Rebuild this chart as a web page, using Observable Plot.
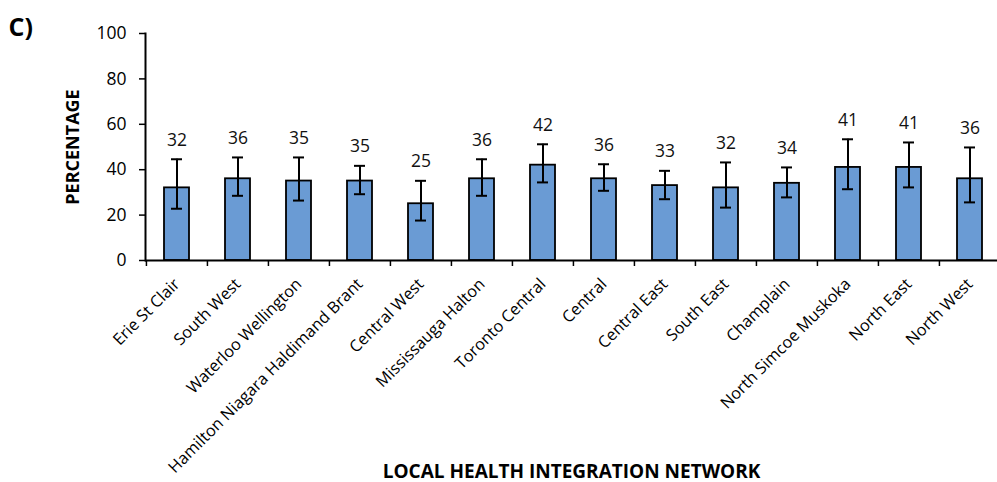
<!DOCTYPE html>
<html>
<head>
<meta charset="utf-8">
<script src="https://cdn.jsdelivr.net/npm/d3@7"></script>
<script src="https://cdn.jsdelivr.net/npm/@observablehq/plot@0.6"></script>
<style>
  html, body { margin: 0; padding: 0; background: #fff; }
  #chart svg { display: block; overflow: visible; }
</style>
</head>
<body>
<div id="chart"></div>
<script>
// Local Health Integration Networks (LHIN) with percentage and 95% CI
const categories = [
  "Erie St Clair", "South West", "Waterloo Wellington", "Hamilton Niagara Haldimand Brant",
  "Central West", "Mississauga Halton", "Toronto Central", "Central", "Central East",
  "South East", "Champlain", "North Simcoe Muskoka", "North East", "North West"
];
const values = [32, 36, 35, 35, 25, 36, 42, 36, 33, 32, 34, 41, 41, 36];
const lower  = [22.8, 28.5, 26.4, 29.2, 17.6, 28.5, 34.4, 30.7, 27.0, 23.3, 27.8, 31.4, 32.2, 25.6];
const upper  = [44.6, 45.4, 45.4, 41.7, 35.1, 44.6, 51.2, 42.4, 39.5, 43.2, 41.0, 53.4, 52.0, 49.8];
const yTicks = [0, 20, 40, 60, 80, 100];

const rows = categories.map((name, i) => ({name, value: values[i], lo: lower[i], hi: upper[i]}));

const W = 997, H = 482;
const xRange = [145, 1001];
const step = (xRange[1] - xRange[0]) / categories.length;
const font = "'Open Sans', 'DejaVu Sans', sans-serif";

const chart = Plot.plot({
  width: W,
  height: H,
  marginTop: 33,
  marginBottom: 222,
  marginLeft: 145,
  marginRight: 0,
  style: {fontFamily: font, fontSize: "16px", color: "#000", background: "#fff"},
  x: {domain: categories, range: xRange, paddingInner: 0.59, paddingOuter: 0.295, axis: null},
  y: {domain: [0, 100], axis: null},
  marks: [
    Plot.barY(rows, {x: "name", y: "value", fill: "#6a9bd4", stroke: "#000", strokeWidth: 1.8}),
    Plot.ruleX(rows, {x: "name", y1: "lo", y2: "hi", stroke: "#000", strokeWidth: 2}),
    Plot.tickY(rows, {x: "name", y: "lo", stroke: "#000", strokeWidth: 2, insetLeft: 7, insetRight: 7}),
    Plot.tickY(rows, {x: "name", y: "hi", stroke: "#000", strokeWidth: 2, insetLeft: 7, insetRight: 7}),
    Plot.text(rows, {x: "name", y: "hi", text: d => String(d.value), dy: -19, fontSize: 17.5, fill: "#111"}),
    // axes
    Plot.axisY({ticks: yTicks, tickSize: 6, tickPadding: 13, fontSize: 17.5, label: null, strokeWidth: 1.5}),
    Plot.frame({anchor: "left", strokeWidth: 2}),
    Plot.ruleY([0], {strokeWidth: 2}),
    // tick marks sit on the category boundaries
    Plot.axisX({tickSize: 6, tickFormat: () => "", dx: -step / 2, label: null, strokeWidth: 1.5}),
    Plot.axisX({tickSize: 0, tickRotate: -45, tickPadding: 21, fontSize: 16.3, label: null}),
    // titles
    Plot.text(["PERCENTAGE"], {frameAnchor: "left", textAnchor: "middle", rotate: -90, dx: -72, fontWeight: "bold", fontSize: 18}),
    Plot.text(["LOCAL HEALTH INTEGRATION NETWORK"], {frameAnchor: "bottom", dx: 0, dy: 217, fontWeight: "bold", fontSize: 19}),
    Plot.text(["C)"], {frameAnchor: "top-left", dx: -137, dy: -15, fontWeight: "bold", fontSize: 25})
  ]
});
document.getElementById("chart").appendChild(chart);
</script>
</body>
</html>
